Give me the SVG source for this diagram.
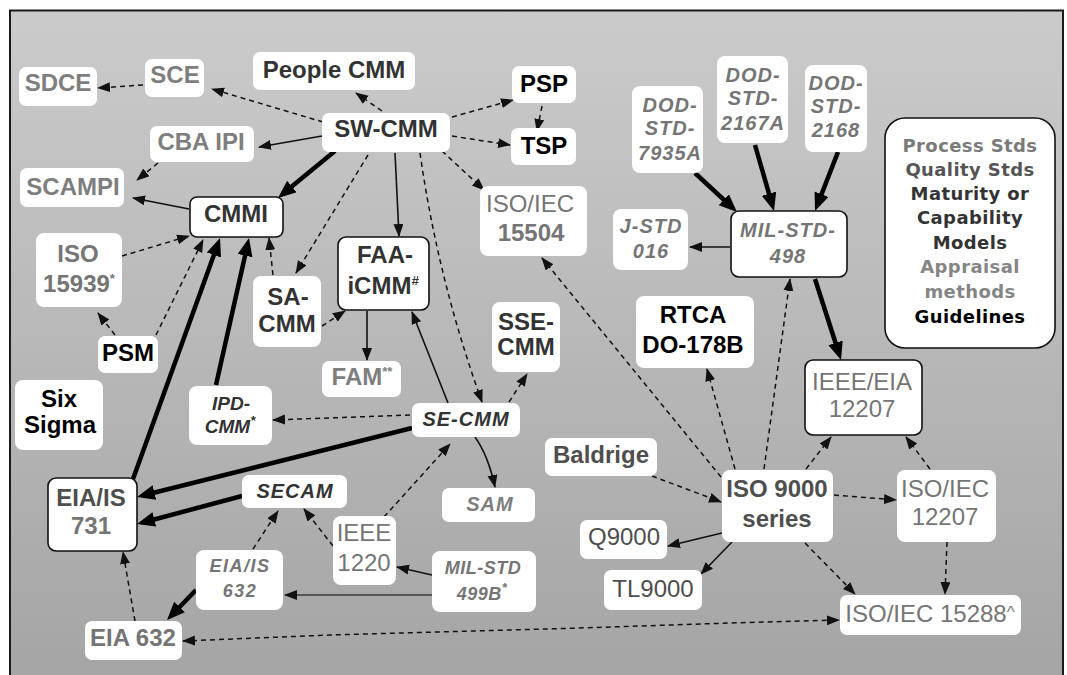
<svg xmlns="http://www.w3.org/2000/svg" width="1067" height="675" viewBox="0 0 1067 675">
<defs>
<linearGradient id="bg" x1="0" y1="0" x2="0" y2="1">
<stop offset="0" stop-color="#cbcbcb"/>
<stop offset="1" stop-color="#a3a3a3"/>
</linearGradient>
<marker id="as" markerUnits="userSpaceOnUse" markerWidth="13" markerHeight="11" refX="12" refY="5" orient="auto"><path d="M0,0 L13,5 L0,10 z" fill="#111"/></marker>
<marker id="ad" markerUnits="userSpaceOnUse" markerWidth="13" markerHeight="11" refX="12" refY="5" orient="auto-start-reverse"><path d="M0,0 L13,5 L0,10 z" fill="#111"/></marker>
<marker id="at" markerUnits="userSpaceOnUse" markerWidth="18" markerHeight="16" refX="12" refY="7.5" orient="auto"><path d="M0,0 L18,7.5 L0,15 z" fill="#000"/></marker>
</defs>
<style>
.bx{fill:#fff;stroke:none}
.bb{fill:#fff;stroke:#111;stroke-width:1.6}
text{font-family:"Liberation Sans",Arial,sans-serif;text-anchor:middle}
.b{font-size:24px;font-weight:bold}
.n{font-size:24px;font-weight:normal}
.i{font-size:20px;font-weight:bold;font-style:italic;letter-spacing:1px}
.lg{font-family:"DejaVu Sans",Verdana,sans-serif;font-size:18px;font-weight:bold;letter-spacing:0.4px}
.cg{fill:#000}
.cm{fill:#333}
.cq{fill:#4e4e4e}
.cp{fill:#757575}
.ca{fill:#7e7e7e}
.sup{font-size:13px}
.s{fill:none;stroke:#111;stroke-width:1.6;marker-end:url(#as)}
.d{fill:none;stroke:#111;stroke-width:1.5;stroke-dasharray:5 4;marker-end:url(#ad)}
.t{fill:none;stroke:#000;stroke-width:4.5;marker-end:url(#at)}
</style>
<rect x="0" y="0" width="1067" height="675" fill="#fff"/>
<rect x="10" y="10.5" width="1053" height="700" fill="url(#bg)" stroke="#1a1a1a" stroke-width="2"/>

<g id="connectors">
<line class="d" x1="143" y1="85" x2="98" y2="88"/>
<line class="d" x1="323" y1="122" x2="212" y2="89"/>
<line class="d" x1="382" y1="111" x2="356" y2="93"/>
<line class="d" x1="452" y1="117" x2="513" y2="100"/>
<line class="d" x1="542" y1="106" x2="537" y2="131"/>
<line class="d" x1="452" y1="136" x2="510" y2="145"/>
<line class="d" x1="442" y1="151" x2="484" y2="190"/>
<line class="s" x1="322" y1="136" x2="259" y2="147"/>
<line class="t" x1="335" y1="151" x2="282.6" y2="194.1"/>
<line class="d" x1="158" y1="163" x2="137" y2="180"/>
<line class="s" x1="189" y1="209" x2="133" y2="198"/>
<line class="d" x1="368" y1="155" x2="296" y2="273"/>
<line class="s" x1="395" y1="153" x2="399" y2="236"/>
<path class="d" d="M420,153 Q438,280 482,402"/>
<line class="d" x1="122" y1="256" x2="189" y2="236"/>
<line class="d" x1="115" y1="335" x2="98" y2="313"/>
<line class="d" x1="156" y1="335" x2="203" y2="240"/>
<line class="t" x1="133" y1="479" x2="218" y2="243.6"/>
<line class="t" x1="216" y1="385" x2="247.7" y2="243.9"/>
<line class="d" x1="273" y1="275" x2="269" y2="238"/>
<line class="d" x1="322" y1="326" x2="345" y2="311"/>
<line class="s" x1="367" y1="311" x2="367" y2="360"/>
<line class="s" x1="448" y1="403" x2="412" y2="312"/>
<line class="d" x1="509" y1="402" x2="527" y2="374"/>
<line class="d" x1="410" y1="415" x2="273" y2="420"/>
<line class="t" x1="412" y1="428" x2="142.8" y2="495.5"/>
<line class="t" x1="242" y1="496" x2="142.8" y2="522.5"/>
<path class="s" d="M475,437 Q488,455 495,487"/>
<line class="d" x1="384" y1="517" x2="450" y2="444"/>
<line class="d" x1="333" y1="546" x2="304" y2="509"/>
<line class="d" x1="253" y1="549" x2="278" y2="511"/>
<line class="s" x1="432" y1="575" x2="397" y2="567"/>
<line class="s" x1="432" y1="595" x2="285" y2="595" style="stroke:#3a3a3a"/>
<line class="t" x1="196" y1="590" x2="171.2" y2="615.7"/>
<line class="d" x1="135" y1="621" x2="123" y2="552"/>
<path class="d" d="M183,641 L330,635 L580,628 L730,623 L839,620" style="marker-start:url(#ad)"/>
<line class="d" x1="805" y1="543" x2="855" y2="594"/>
<line class="d" x1="947" y1="542" x2="945" y2="594"/>
<line class="d" x1="834" y1="495" x2="896" y2="500"/>
<line class="d" x1="806" y1="469" x2="831" y2="437"/>
<line class="d" x1="930" y1="469" x2="906" y2="437"/>
<line class="t" x1="815" y1="279" x2="839.2" y2="354.3"/>
<line class="d" x1="764" y1="469" x2="790" y2="279"/>
<line class="d" x1="735" y1="469" x2="707" y2="369"/>
<line class="d" x1="721" y1="477" x2="542" y2="258"/>
<line class="d" x1="652" y1="476" x2="721" y2="502"/>
<line class="s" x1="722" y1="533" x2="668" y2="546"/>
<line class="s" x1="732" y1="542" x2="701" y2="574"/>
<line class="t" x1="695" y1="173" x2="732.6" y2="207.9"/>
<line class="t" x1="755" y1="145" x2="772.3" y2="205.2"/>
<line class="t" x1="838" y1="152" x2="817.2" y2="205.4"/>
<line class="s" x1="730" y1="247" x2="690" y2="247"/>
</g>

<g id="n-sdce"><rect class="bx" x="19" y="67" width="78" height="39" rx="7"/><text class="b ca" x="58" y="91">SDCE</text></g>
<g id="n-sce"><rect class="bx" x="145" y="59" width="59" height="38" rx="7"/><text class="b ca" x="175" y="83">SCE</text></g>
<g id="n-peoplecmm"><rect class="bx" x="253" y="52" width="162" height="38" rx="7"/><text class="b cm" x="334" y="78">People CMM</text></g>
<g id="n-swcmm"><rect class="bx" x="322" y="113" width="128" height="39" rx="7"/><text class="b cm" x="386" y="137">SW-CMM</text></g>
<g id="n-psp"><rect class="bx" x="512" y="66" width="64" height="37" rx="7"/><text class="b cg" x="544" y="92">PSP</text></g>
<g id="n-tsp"><rect class="bx" x="511" y="128" width="65" height="37" rx="7"/><text class="b cg" x="544" y="154">TSP</text></g>
<g id="n-cbaipi"><rect class="bx" x="150" y="126" width="104" height="36" rx="7"/><text class="b ca" x="201" y="150">CBA IPI</text></g>
<g id="n-scampi"><rect class="bx" x="20" y="168" width="104" height="39" rx="7"/><text class="b ca" x="73" y="195">SCAMPI</text></g>
<g id="n-cmmi"><rect class="bb" x="190" y="197" width="93" height="40" rx="7"/><text class="b cm" x="236" y="222">CMMI</text></g>
<g id="n-iso15939"><rect class="bx" x="36" y="233" width="86" height="74" rx="8"/><text class="b cp" x="78" y="262">ISO</text><text class="b cp" x="79" y="292">15939<tspan class="sup" dy="-9">*</tspan></text></g>
<g id="n-psm"><rect class="bx" x="98" y="336" width="60" height="37" rx="7"/><text class="b cg" x="128" y="361">PSM</text></g>
<g id="n-sixsigma"><rect class="bx" x="15" y="380" width="88" height="70" rx="8"/><text class="b cg" x="59" y="407">Six</text><text class="b cg" x="60" y="433">Sigma</text></g>
<g id="n-sacmm"><rect class="bx" x="253" y="276" width="68" height="71" rx="8"/><text class="b cm" x="288" y="305">SA-</text><text class="b cm" x="287" y="332">CMM</text></g>
<g id="n-faaicmm"><rect class="bb" x="338" y="237" width="91" height="73" rx="8"/><text class="b cm" x="385" y="263">FAA-</text><text class="b cm" x="383" y="294">iCMM<tspan class="sup" dy="-9" font-style="italic">#</tspan></text></g>
<g id="n-fam"><rect class="bx" x="322" y="361" width="79" height="36" rx="7"/><text class="b ca" x="362" y="385">FAM<tspan class="sup" dy="-9">**</tspan></text></g>
<g id="n-iso15504"><rect class="bx" x="480" y="186" width="107" height="70" rx="8"/><text class="n cp" x="530" y="212">ISO/IEC</text><text class="b cp" x="531" y="241">15504</text></g>
<g id="n-ssecmm"><rect class="bx" x="492" y="302" width="68" height="70" rx="8"/><text class="b cm" x="526" y="330">SSE-</text><text class="b cm" x="526" y="355">CMM</text></g>
<g id="n-ipdcmm"><rect class="bx" x="189" y="386" width="83" height="59" rx="8"/><text class="i cm" style="font-size:19px;letter-spacing:0" x="231" y="410">IPD-</text><text class="i cm" style="font-size:19px;letter-spacing:0" x="230" y="433">CMM<tspan class="sup" dy="-8">*</tspan></text></g>
<g id="n-secmm"><rect class="bx" x="412" y="403" width="108" height="34" rx="7"/><text class="i cm" x="466" y="426">SE-CMM</text></g>
<g id="n-eiais731"><rect class="bb" x="48" y="478" width="89" height="73" rx="8"/><text class="b cq" x="91" y="506">EIA/IS</text><text class="b cp" x="91" y="534">731</text></g>
<g id="n-secam"><rect class="bx" x="242" y="475" width="105" height="33" rx="7"/><text class="i cm" x="295" y="498">SECAM</text></g>
<g id="n-sam"><rect class="bx" x="442" y="488" width="93" height="34" rx="7"/><text class="i ca" x="490" y="511">SAM</text></g>
<g id="n-ieee1220"><rect class="bx" x="333" y="516" width="63" height="69" rx="8"/><text class="n cp" x="364" y="541">IEEE</text><text class="n cp" x="364" y="571">1220</text></g>
<g id="n-milstd499b"><rect class="bx" x="432" y="551" width="104" height="61" rx="8"/><text class="i cp" style="font-size:18px;letter-spacing:0.5px" x="483" y="574">MIL-STD</text><text class="i cp" style="font-size:18px;letter-spacing:0.5px" x="482" y="600">499B<tspan class="sup" dy="-8">*</tspan></text></g>
<g id="n-eiais632"><rect class="bx" x="196" y="550" width="87" height="60" rx="8"/><text class="i cp" style="font-size:18px;letter-spacing:1.5px" x="240" y="572">EIA/IS</text><text class="i cp" style="font-size:18px;letter-spacing:1.5px" x="240" y="597">632</text></g>
<g id="n-eia632"><rect class="bx" x="85" y="621" width="97" height="39" rx="7"/><text class="b cp" x="133" y="646">EIA 632</text></g>
<g id="n-baldrige"><rect class="bx" x="545" y="438" width="112" height="38" rx="7"/><text class="b cq" x="601" y="463">Baldrige</text></g>
<g id="n-q9000"><rect class="bx" x="580" y="520" width="87" height="39" rx="7"/><text class="n cq" x="624" y="545">Q9000</text></g>
<g id="n-tl9000"><rect class="bx" x="604" y="570" width="98" height="40" rx="7"/><text class="n cq" x="653" y="597">TL9000</text></g>
<g id="n-iso9000"><rect class="bx" x="722" y="470" width="111" height="72" rx="8"/><text class="b cq" x="777" y="497">ISO 9000</text><text class="b cq" x="777" y="527">series</text></g>
<g id="n-isoiec12207"><rect class="bx" x="897" y="470" width="99" height="72" rx="8"/><text class="n cp" x="945" y="497">ISO/IEC</text><text class="n cp" x="945" y="525">12207</text></g>
<g id="n-isoiec15288"><rect class="bx" x="840" y="595" width="181" height="40" rx="7"/><text class="n cp" x="930" y="622">ISO/IEC 15288<tspan style="font-size:17px" dy="-4">^</tspan></text></g>
<g id="n-ieeeeia12207"><rect class="bb" x="805" y="360" width="117" height="75" rx="8"/><text class="n cp" x="862" y="390">IEEE/EIA</text><text class="n cp" x="862" y="417">12207</text></g>
<g id="n-rtca"><rect class="bx" x="636" y="296" width="118" height="72" rx="8"/><text class="b cg" x="693" y="323">RTCA</text><text class="b cg" x="693" y="353">DO-178B</text></g>
<g id="n-milstd498"><rect class="bb" x="731" y="211" width="116" height="66" rx="8"/><text class="i cp" x="788" y="237">MIL-STD-</text><text class="i cp" x="788" y="263">498</text></g>
<g id="n-jstd016"><rect class="bx" x="613" y="209" width="75" height="61" rx="8"/><text class="i cp" x="651" y="233">J-STD</text><text class="i cp" x="651" y="258">016</text></g>
<g id="n-dod7935a"><rect class="bx" x="632" y="86" width="71" height="87" rx="8"/><text class="i cp" x="670" y="112">DOD-</text><text class="i cp" x="670" y="135">STD-</text><text class="i cp" x="670" y="160">7935A</text></g>
<g id="n-dod2167a"><rect class="bx" x="717" y="56" width="71" height="87" rx="8"/><text class="i cp" x="753" y="82">DOD-</text><text class="i cp" x="753" y="105">STD-</text><text class="i cp" x="753" y="130">2167A</text></g>
<g id="n-dod2168"><rect class="bx" x="805" y="65" width="62" height="87" rx="8"/><text class="i cp" x="836" y="90">DOD-</text><text class="i cp" x="836" y="113">STD-</text><text class="i cp" x="836" y="137">2168</text></g>

<g id="legend"><rect class="bb" x="885" y="118" width="170" height="230" rx="20"/>
<text class="lg" x="970" y="152" fill="#7a7a7a">Process Stds</text>
<text class="lg" x="970" y="176" fill="#555">Quality Stds</text>
<text class="lg" x="970" y="200" fill="#333">Maturity or</text>
<text class="lg" x="970" y="224" fill="#333">Capability</text>
<text class="lg" x="970" y="249" fill="#333">Models</text>
<text class="lg" x="970" y="273" fill="#858585">Appraisal</text>
<text class="lg" x="970" y="298" fill="#858585">methods</text>
<text class="lg" x="970" y="323" fill="#000">Guidelines</text>
</g>
</svg>
